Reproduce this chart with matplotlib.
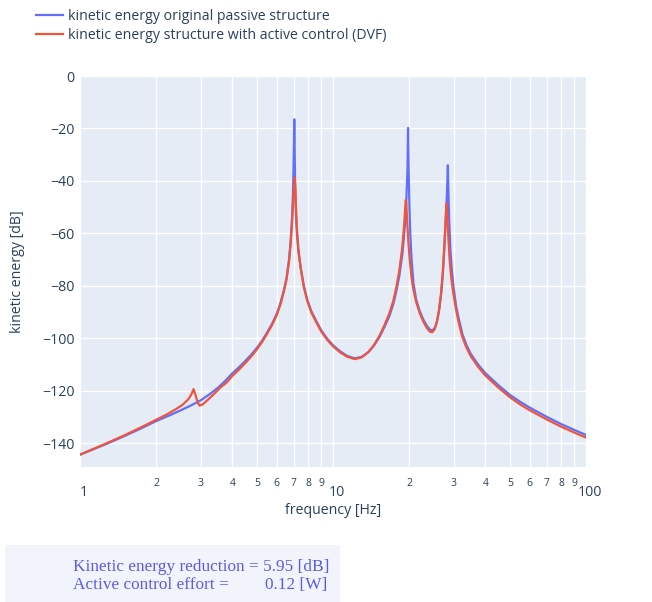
# coding:utf-8
import matplotlib
matplotlib.use("Agg")
import matplotlib.pyplot as plt
from matplotlib.patches import Rectangle
from matplotlib.transforms import ScaledTranslation

plt.rcParams['font.family'] = ['Open Sans', 'DejaVu Sans']

# passive structure (blue)
f_passive = [1, 1.25, 1.5, 1.75, 2, 2.25, 2.5, 2.75, 3, 3.25, 3.5, 3.75, 4, 4.25, 4.5,
             4.75, 5, 5.25, 5.5, 5.75, 6, 6.2, 6.4, 6.55, 6.7, 6.8, 6.88, 6.94, 6.98,
             7.01, 7.03, 7.05, 7.08, 7.13, 7.2, 7.3, 7.45, 7.67, 7.9, 8.2, 8.6, 9, 9.5,
             10, 10.7, 11.4, 12.2, 13, 13.8, 14.5, 15.3, 16, 16.7, 17.3, 17.8, 18.3,
             18.8, 19.2, 19.5, 19.7, 19.8, 19.9, 20.05, 20.2, 20.45, 20.8, 21.3, 22,
             22.8, 23.6, 24.3, 24.8, 25.3, 25.8, 26.3, 26.8, 27.2, 27.6, 27.9, 28.2,
             28.45, 28.6, 28.8, 29.1, 29.5, 30, 30.7, 31.5, 32.5, 33.7, 35, 37.5, 40,
             45, 50, 55, 60, 70, 80, 90, 100]
db_passive = [-144.3, -140.5, -137.2, -134.2, -131.5, -129.4, -127.4, -125.5, -123.6,
              -121.3, -118.9, -116.2, -113.3, -111.0, -108.6,
              -106.2, -103.6, -100.8, -97.6, -94.3, -90.5, -86.5, -81.5, -77.0, -70.0,
              -63.0, -55.0, -46.0, -36.0,
              -25.0, -16.5, -25.0, -40.0, -52.0, -60.0, -67.0, -73.0, -80.0, -85.0,
              -89.5, -93.5, -97.0, -100.2,
              -102.6, -105.0, -106.7, -107.6, -107.0, -105.2, -102.8, -99.3, -95.5,
              -91.5, -87.0, -82.0, -76.0,
              -68.0, -58.0, -47.0, -35.0, -19.8, -35.0, -50.0, -60.0, -70.0, -79.0,
              -85.0, -89.5,
              -93.0, -95.5, -96.8, -96.9, -95.8, -93.3, -89.0, -82.5, -75.0, -64.0,
              -55.0, -45.0,
              -34.0, -45.0, -55.0, -66.0, -74.0, -81.0, -88.0, -93.0, -98.5, -102.5,
              -105.8, -110.0, -113.2,
              -117.8, -121.5, -124.2, -126.4, -129.9, -132.7, -134.9, -136.8]

# structure with active control DVF (red)
f_active = [1, 1.25, 1.5, 1.75, 2, 2.2, 2.4, 2.55, 2.68, 2.76, 2.81, 2.86, 2.92, 2.97,
            3.05, 3.2, 3.4, 3.6, 3.8, 4, 4.25, 4.5, 4.75, 5, 5.25, 5.5, 5.75, 6, 6.2,
            6.4, 6.55, 6.7, 6.8, 6.88, 6.95, 7.01, 7.06, 7.1, 7.14, 7.2, 7.3, 7.45,
            7.67, 7.9, 8.2, 8.6, 9, 9.5, 10, 10.7, 11.4, 12.2, 13, 13.8, 14.5, 15.3,
            16, 16.7, 17.3, 17.8, 18.3, 18.8, 19.1, 19.3, 19.4, 19.5, 19.65, 19.85,
            20.1, 20.45, 20.8, 21.3, 22, 22.8, 23.6, 24.2, 24.7, 25.2, 25.7, 26.2,
            26.7, 27.1, 27.5, 27.8, 28.05, 28.15, 28.3, 28.55, 28.9, 29.3, 29.8,
            30.5, 31.3, 32.3, 33.5, 35, 37.5, 40, 45, 50, 55, 60, 70, 80, 90, 100]
db_active = [-144.3, -140.3, -136.9, -133.8, -131.0, -129.0, -126.9, -125.2, -123.2,
             -121.2, -119.3, -121.5, -124.5, -125.6,
             -125.2, -123.4, -121.0, -118.6, -116.8, -114.3, -111.9, -109.4, -106.9,
             -104.2, -101.3, -98.1, -94.8, -91.0, -87.0,
             -82.0, -77.5, -71.0, -64.0, -57.0, -49.0, -42.0, -38.7, -43.0, -50.0,
             -58.0, -66.0, -73.0,
             -80.5, -85.5, -90.0, -94.0, -97.5, -100.6, -103.0, -105.4, -107.0,
             -107.9, -107.2, -105.2, -102.6, -98.8,
             -94.8, -90.5, -85.8, -80.5, -74.0, -65.0, -57.0, -50.0, -47.2, -49.0,
             -56.0, -63.0,
             -70.0, -77.0, -81.5, -86.0, -90.3, -93.8, -96.3, -97.5, -97.6, -96.6,
             -94.0, -89.6,
             -83.3, -76.0, -66.0, -57.0, -49.0, -48.6, -53.0, -61.0, -70.0, -76.5,
             -82.0,
             -88.0, -93.5, -98.8, -103.0, -106.7, -110.9, -114.1, -118.7, -122.4,
             -125.2, -127.4, -130.9, -133.7, -135.9, -137.8]

labels = ['kinetic energy original passive structure',
          'kinetic energy structure with active control (DVF)']
major_ticks = [1, 10, 100]
minor_ticks = [2, 3, 4, 5, 6, 7, 8, 9, 20, 30, 40, 50, 60, 70, 80, 90]
minor_labels = ['2', '3', '4', '5', '6', '7', '8', '9'] * 2
y_ticks = [0, -20, -40, -60, -80, -100, -120, -140]

reduction_db = 5.95
control_effort = 0.12

txt_color = '#2a3f5f'

fig = plt.figure(figsize=(6.52, 6.02), dpi=100)
ax = fig.add_axes([80 / 652, 1 - 467 / 602, 506 / 652, 391 / 602])
ax.set_facecolor('#E5ECF6')
for s in ax.spines.values():
    s.set_visible(False)

ax.plot(f_passive, db_passive, color='#636EFA', lw=1.6, label=labels[0], zorder=3)
ax.plot(f_active, db_active, color='#EF553B', lw=1.6, label=labels[1], zorder=4)

ax.set_xscale('log')
ax.set_xlim(1, 100)
ax.set_ylim(-149, 0)
ax.set_xticks(major_ticks)
ax.set_xticklabels([str(t) for t in major_ticks])
ax.set_xticks(minor_ticks, minor=True)
ax.set_xticklabels(minor_labels, minor=True)
ax.set_yticks(y_ticks)
ax.set_yticklabels(['0' if t == 0 else '\u2212' + str(-t) for t in y_ticks])

ax.tick_params(axis='x', which='major', length=0, pad=13, labelsize=10.2, labelcolor=txt_color)
ax.tick_params(axis='x', which='minor', length=0, pad=8, labelsize=7.5, labelcolor=txt_color)
ax.tick_params(axis='y', length=0, pad=4, labelsize=10.2, labelcolor=txt_color)

# plotly puts the decade labels a bit to the right
shift = ScaledTranslation(4 / 100, 0, fig.dpi_scale_trans)
for lab in ax.get_xticklabels():
    lab.set_transform(lab.get_transform() + shift)

ax.grid(True, which='both', color='white', lw=1)
ax.set_axisbelow(True)

ax.set_xlabel('frequency [Hz]', fontsize=10.2, color=txt_color, labelpad=2)
ax.set_ylabel('kinetic energy [dB]', fontsize=10.2, color=txt_color, labelpad=12)

fig.legend(loc='upper left', bbox_to_anchor=(23 / 652, 1 + 4 / 602), frameon=False,
           fontsize=10.2, handlelength=1.9, handletextpad=0.35, labelspacing=0.3,
           labelcolor=txt_color)

# result box at the bottom
fig.patches.append(Rectangle((5 / 652, 0), 335 / 652, 57 / 602, transform=fig.transFigure,
                             facecolor='#F1F5FB', edgecolor='none'))
box_color = '#5B5BE8'
serif = ['Liberation Serif', 'DejaVu Serif']
fig.text(73 / 652, 1 - 567 / 602, 'Kinetic energy reduction = %.2f [dB]' % reduction_db,
         fontsize=12.4, family=serif, color=box_color, va='center', ha='left')
fig.text(73 / 652, 1 - 585 / 602, 'Active control effort =',
         fontsize=12.4, family=serif, color=box_color, va='center', ha='left')
fig.text(327 / 652, 1 - 585 / 602, '%.2f [W]' % control_effort,
         fontsize=12.4, family=serif, color=box_color, va='center', ha='right')

plt.savefig('out.png', dpi=100)
